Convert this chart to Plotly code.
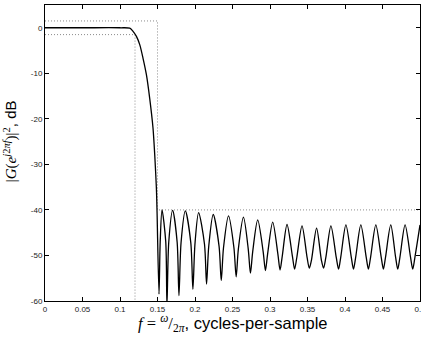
import plotly.graph_objects as go

# ---- data ----
# passband + transition band samples (f, dB)
pass_f = [0.0, 0.05, 0.10, 0.113, 0.1174, 0.1219, 0.1263, 0.1307, 0.1352, 0.1396, 0.1440, 0.1463, 0.1485, 0.1494]
pass_db = [0.0, 0.0, 0.0, -0.1, -0.8, -1.9, -3.7, -6.7, -10.3, -15.5, -22.0, -27.9, -35.2, -40.4]

# stopband nulls
null_f = [0.1520, 0.1626, 0.1786, 0.1972, 0.2154, 0.2350, 0.2549, 0.2739, 0.2939, 0.3134,
          0.3328, 0.3524, 0.3714, 0.3914, 0.4113, 0.4312, 0.4512, 0.4703, 0.4903]
null_db = [-58.5, -61.0, -58.8, -57.4, -56.3, -55.5, -54.7, -53.9, -53.3, -53.2,
           -53.0, -52.8, -52.8, -53.0, -53.0, -53.0, -53.0, -53.0, -53.0]
# stopband lobe peaks
peak_f = [0.1560, 0.1702, 0.1871, 0.2048, 0.2243, 0.2447, 0.2646, 0.2836, 0.3036, 0.3227,
          0.3427, 0.3621, 0.3812, 0.4012, 0.4211, 0.4411, 0.4610, 0.4801, 0.5000]
peak_db = [-40.0, -40.1, -40.2, -40.6, -41.0, -41.3, -41.6, -42.2, -42.7, -43.2,
           -43.5, -44.0, -43.5, -43.3, -43.3, -43.3, -43.3, -43.3, -43.3]
# lobe shoulders (left / right of each peak)
shl_f = [0.1536, 0.1650, 0.1814, 0.1999, 0.2183, 0.2380, 0.2578, 0.2769, 0.2968, 0.3163,
         0.3357, 0.3553, 0.3744, 0.3944, 0.4143, 0.4342, 0.4541, 0.4733, 0.4933]
shr_f = [0.1610, 0.1762, 0.1944, 0.2127, 0.2321, 0.2519, 0.2710, 0.2909, 0.3105, 0.3299,
         0.3495, 0.3685, 0.3884, 0.4083, 0.4282, 0.4482, 0.4674, 0.4873]
sh_db = [-47.0, -47.1, -47.2, -47.6, -48.0, -48.3, -48.6, -49.2, -49.7, -50.2,
         -50.5, -51.0, -50.5, -50.3, -50.3, -50.3, -50.3, -50.3, -50.3]

# specification mask (dotted)
mask_upper_f = [0.0, 0.15, 0.15, 0.5]
mask_upper_db = [1.5, 1.5, -40.0, -40.0]
mask_lower_f = [0.0, 0.12, 0.12]
mask_lower_db = [-1.5, -1.5, -60.0]

x_ticks = [0, 0.05, 0.1, 0.15, 0.2, 0.25, 0.3, 0.35, 0.4, 0.45, 0.5]
x_labels = ["0", "0.05", "0.1", "0.15", "0.2", "0.25", "0.3", "0.35", "0.4", "0.45", "0.5"]
y_ticks = [0, -10, -20, -30, -40, -50, -60]
y_labels = ["0", "-10", "-20", "-30", "-40", "-50", "-60"]

# ---- assemble curve ----
cf = list(pass_f)
cd = list(pass_db)
for i in range(len(peak_f)):
    cf += [null_f[i], shl_f[i], peak_f[i]]
    cd += [null_db[i], sh_db[i], peak_db[i]]
    if i < len(shr_f):
        cf.append(shr_f[i])
        cd.append(sh_db[i])

fig = go.Figure()
dot = dict(color="#8c8c8c", width=1, dash="1px,2px")
fig.add_trace(go.Scatter(x=mask_upper_f, y=mask_upper_db, mode="lines", line=dot, hoverinfo="skip"))
fig.add_trace(go.Scatter(x=mask_lower_f, y=mask_lower_db, mode="lines", line=dot, hoverinfo="skip"))
fig.add_trace(go.Scatter(x=cf, y=cd, mode="lines",
                         line=dict(color="black", width=1.3, shape="spline", smoothing=0.8)))

axis_common = dict(showline=True, linecolor="black", linewidth=1, mirror="ticks",
                   ticks="inside", ticklen=4, tickcolor="black", showgrid=False, zeroline=False,
                   ticklabeloverflow="allow", automargin=False,
                   tickfont=dict(family="Liberation Sans, Arial, sans-serif", size=8, color="#222"))
fig.update_xaxes(range=[0, 0.5], tickvals=x_ticks, ticktext=x_labels, **axis_common)
fig.update_yaxes(range=[-60, 5], tickvals=y_ticks, ticktext=y_labels, **axis_common)

serif = "font-family:'Liberation Serif', 'Times New Roman', serif"
fig.add_annotation(
    xref="paper", yref="paper", x=0.5, y=-0.074, xanchor="center", yanchor="middle", showarrow=False,
    text=(f"<span style=\"{serif}\"><i>f</i> = <sup><i>ω</i></sup>/<sub>2<i>π</i></sub></span>, cycles-per-sample"),
    font=dict(family="Liberation Sans, Arial, sans-serif", size=16.5, color="black"))
fig.add_annotation(
    xref="paper", yref="paper", x=-0.093, y=0.54, xanchor="center", yanchor="middle", showarrow=False,
    textangle=-90,
    text=(f"<span style=\"{serif}\">|<i>G</i>(<i>e</i><sup><i>j</i>2<i>πf</i></sup>)|<sup>2</sup></span>, dB"),
    font=dict(family="Liberation Sans, Arial, sans-serif", size=15, color="black"))

fig.update_layout(width=421, height=338, margin=dict(l=45, r=1, t=5, b=37),
                  paper_bgcolor="white", plot_bgcolor="white", showlegend=False)

fig.write_html("out.html")
